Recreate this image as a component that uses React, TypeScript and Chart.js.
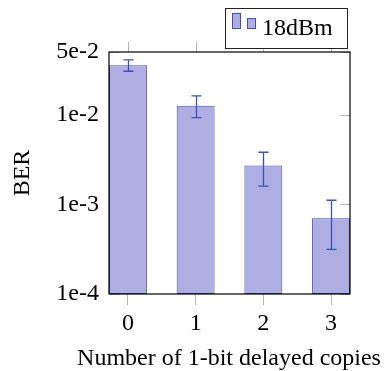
import React, { useEffect, useRef } from "react";
import { Chart, registerables } from "chart.js";

Chart.register(...registerables);

const categories = [0, 1, 2, 3];
const berValues = [3.56e-2, 1.26e-2, 2.71e-3, 6.98e-4];
const errHigh = [4.08e-2, 1.62e-2, 3.81e-3, 1.11e-3];
const errLow = [3.05e-2, 9.25e-3, 1.6e-3, 3.14e-4];
const yTickValues = [1e-4, 1e-3, 1e-2, 5e-2];
const yTickLabels = ["1e-4", "1e-3", "1e-2", "5e-2"];
const seriesLabel = "18dBm";
const xTitle = "Number of 1-bit delayed copies";

const FONT = "'Liberation Serif', 'Times New Roman', serif";
const FILL = "rgba(174,174,226,1)";
const STROKE = "rgb(63,79,181)";
const TICKGREY = "#b4b4b4";

const decorPlugin = {
  id: "decor",
  beforeDatasetsDraw(chart: any) {
    const { ctx, chartArea, scales } = chart;
    const x = scales.x;
    const y = scales.y;
    ctx.save();
    ctx.strokeStyle = TICKGREY;
    ctx.lineWidth = 1;
    categories.forEach((c) => {
      const px = Math.round(x.getPixelForValue(c)) + 0.5;
      ctx.beginPath();
      ctx.moveTo(px, chartArea.top - 10);
      ctx.lineTo(px, chartArea.top);
      ctx.stroke();
    });
    yTickValues.forEach((v) => {
      const py = Math.round(y.getPixelForValue(v)) + 0.5;
      ctx.beginPath();
      ctx.moveTo(chartArea.left, py);
      ctx.lineTo(chartArea.left + 10, py);
      ctx.moveTo(chartArea.right - 10, py);
      ctx.lineTo(chartArea.right, py);
      ctx.stroke();
    });
    ctx.restore();
  },
  afterDatasetsDraw(chart: any) {
    const { ctx, chartArea, scales } = chart;
    const x = scales.x;
    const y = scales.y;
    ctx.save();
    ctx.strokeStyle = STROKE;
    ctx.lineWidth = 1.3;
    categories.forEach((c, i) => {
      const px = Math.round(x.getPixelForValue(c)) + 0.5;
      const yh = y.getPixelForValue(errHigh[i]);
      const yl = y.getPixelForValue(errLow[i]);
      ctx.beginPath();
      ctx.moveTo(px, yh);
      ctx.lineTo(px, yl);
      ctx.moveTo(px - 5, yh);
      ctx.lineTo(px + 5, yh);
      ctx.moveTo(px - 5, yl);
      ctx.lineTo(px + 5, yl);
      ctx.stroke();
    });
    ctx.strokeStyle = "#000";
    ctx.lineWidth = 1.2;
    ctx.strokeRect(
      chartArea.left,
      chartArea.top,
      chartArea.right - chartArea.left,
      chartArea.bottom - chartArea.top
    );
    ctx.restore();
  },
  afterDraw(chart: any) {
    const { ctx } = chart;
    ctx.save();
    // x axis title (drawn without width compression)
    ctx.fillStyle = "#000";
    ctx.font = `24px ${FONT}`;
    ctx.textAlign = "center";
    ctx.textBaseline = "alphabetic";
    ctx.fillText(xTitle, 229, 365);
    // legend box
    const lx = 225.5, ly = 8.5, lw = 122, lh = 40;
    ctx.fillStyle = "#fff";
    ctx.fillRect(lx, ly, lw, lh);
    ctx.strokeStyle = "#222";
    ctx.lineWidth = 1;
    ctx.strokeRect(lx, ly, lw, lh);
    ctx.fillStyle = FILL;
    ctx.strokeStyle = STROKE;
    ctx.fillRect(232.5, 13.5, 8, 15);
    ctx.strokeRect(232.5, 13.5, 8, 15);
    ctx.fillRect(247.5, 18.5, 8, 10);
    ctx.strokeRect(247.5, 18.5, 8, 10);
    ctx.fillStyle = "#000";
    ctx.textAlign = "left";
    ctx.fillText(chart.data.datasets[0].label, 262, 35);
    ctx.restore();
  },
};

export default function App() {
  const ref = useRef<HTMLCanvasElement | null>(null);
  useEffect(() => {
    if (!ref.current) return;
    const chart = new Chart(ref.current, {
      type: "bar",
      data: {
        datasets: [
          {
            label: seriesLabel,
            data: categories.map((c, i) => ({ x: c, y: berValues[i] })),
            backgroundColor: FILL,
            borderColor: STROKE,
            borderWidth: 1,
            borderSkipped: false,
            categoryPercentage: 1,
            barPercentage: 0.56,
          },
        ],
      },
      options: {
        animation: false,
        responsive: false,
        maintainAspectRatio: false,
        layout: { padding: { left: 0, right: 37, top: 52, bottom: 0 } },
        plugins: { legend: { display: false }, tooltip: { enabled: false } },
        scales: {
          x: {
            type: "linear",
            offset: false,
            min: -0.28,
            max: 3.28,
            afterFit: (s: any) => {
              s.height = 77;
            },
            afterBuildTicks: (s: any) => {
              s.ticks = categories.map((c) => ({ value: c }));
            },
            grid: {
              offset: false,
              drawOnChartArea: false,
              drawTicks: true,
              tickLength: 11,
              color: TICKGREY,
            },
            border: { display: false },
            ticks: {
              color: "#000",
              font: { family: FONT, size: 24 },
              padding: 4,
              autoSkip: false,
              maxRotation: 0,
              callback: (v: any) => String(v),
            },
            title: { display: false },
          },
          y: {
            type: "logarithmic",
            min: 1e-4,
            max: 5e-2,
            afterFit: (s: any) => {
              s.width = 109;
            },
            afterBuildTicks: (s: any) => {
              s.ticks = yTickValues.map((v) => ({ value: v }));
            },
            grid: { display: false, drawTicks: false },
            border: { display: false },
            ticks: {
              color: "#000",
              font: { family: FONT, size: 24 },
              padding: 10,
              autoSkip: false,
              callback: (_v: any, i: number) => yTickLabels[i],
            },
            title: {
              display: true,
              text: "BER",
              color: "#000",
              font: { family: FONT, size: 24 },
              padding: { top: 8, bottom: 0 },
            },
          },
        },
      },
      plugins: [decorPlugin],
    });
    return () => chart.destroy();
  }, []);
  return (
    <div style={{ position: "fixed", left: 0, top: 0, width: 387, height: 371, background: "#fff" }}>
      <canvas ref={ref} width={387} height={371} style={{ width: 387, height: 371, display: "block" }} />
    </div>
  );
}
